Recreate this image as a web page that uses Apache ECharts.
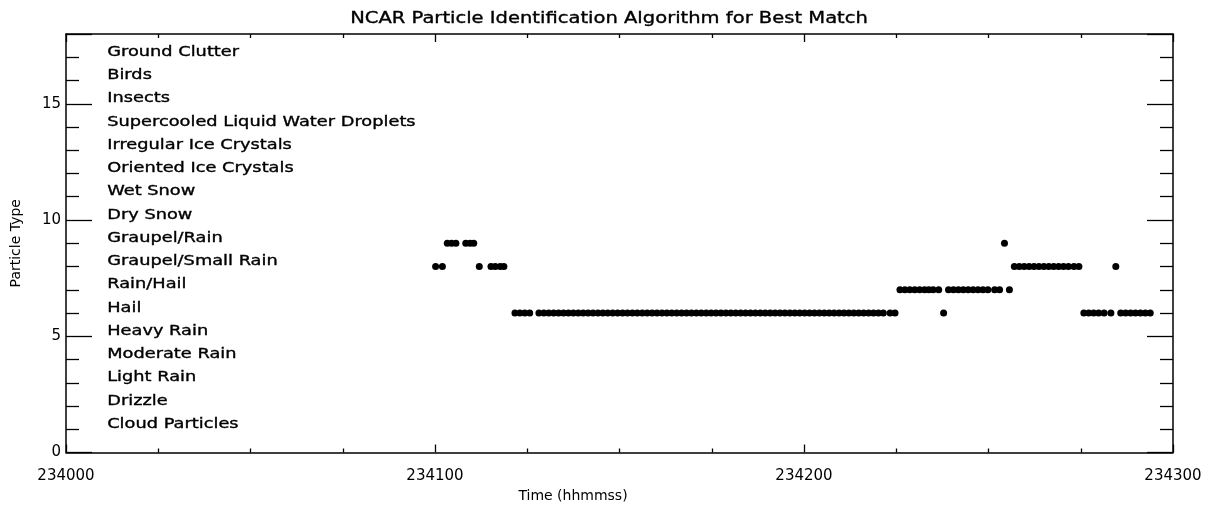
<!DOCTYPE html>
<html>
<head>
<meta charset="utf-8">
<script src="https://cdn.jsdelivr.net/npm/echarts@6/dist/echarts.min.js"></script>
<style>
html,body{margin:0;padding:0;background:#fff;}
#chart{width:1218px;height:506px;}
</style>
</head>
<body>
<div id="chart"></div>
<script>
// Particle type names, index 0 -> type 1
const particleTypes = ["Cloud Particles","Drizzle","Light Rain","Moderate Rain","Heavy Rain","Hail","Rain/Hail","Graupel/Small Rain","Graupel/Rain","Dry Snow","Wet Snow","Oriented Ice Crystals","Irregular Ice Crystals","Supercooled Liquid Water Droplets","Insects","Birds","Ground Clutter"];
// x tick labels (every 60 s from 23:40:00)
const xTickLabels = ["234000","234100","234200","234300"];
// observation time, seconds after 23:40:00
const obsTime = [
 60.1, 61.2,
 62.0, 62.7, 63.4,
 65.0, 65.7, 66.3,
 67.2,
 69.1, 69.8, 70.6, 71.2,
 73.0, 73.8, 74.6, 75.4,
 76.9, 77.7, 78.5, 79.3, 80.1, 80.9, 81.7, 82.5, 83.3, 84.1, 84.9, 85.7, 86.5, 87.3, 88.1, 88.9, 89.7, 90.5, 91.3, 92.1, 92.9, 93.7, 94.5, 95.3, 96.1, 96.9, 97.7, 98.5, 99.3, 100.1, 100.9, 101.7, 102.5, 103.3, 104.1, 104.9, 105.7, 106.5, 107.3, 108.1, 108.9, 109.7, 110.5, 111.3, 112.1, 112.9, 113.7, 114.5, 115.3, 116.1, 116.9, 117.7, 118.5, 119.3, 120.1, 120.9, 121.7, 122.5, 123.3, 124.1, 124.9, 125.7, 126.5, 127.3, 128.1, 128.9, 129.7, 130.5, 131.3, 132.1, 132.9,
 134.0, 134.8, 135.6, 136.4, 137.2, 138.0, 138.8, 139.6, 140.3,
 141.0,
 141.9, 142.7, 143.5, 144.3, 145.1, 145.9, 146.7, 147.5, 148.3, 149.1, 149.9,
 151.0,
 151.8,
 152.6, 153.4, 154.2, 155.0, 155.8, 156.6, 157.4, 158.2, 159.0, 159.8, 160.6, 161.4, 162.2, 163.0,
 163.9, 164.7, 165.5, 166.3, 167.1, 167.9,
 168.8,
 169.9, 170.7, 171.5, 172.3, 173.1, 173.9, 174.7, 175.5, 176.3
];
// particle type for each observation
const obsType = [
 8, 8,
 9, 9, 9,
 9, 9, 9,
 8,
 8, 8, 8, 8,
 6, 6, 6, 6,
 6,6,6,6,6,6,6,6,6,6,6,6,6,6,6,6,6,6,6,6,6,6,6,6,6,6,6,6,6,6,6,6,6,6,6,6,6,6,6,6,6,6,6,6,6,6,6,6,6,6,6,6,6,6,6,6,6,6,6,6,6,6,6,6,6,6,6,6,6,6,6,6,6,
 7,7,7,7,7,7,7,7,7,
 6,
 7,7,7,7,7,7,7,7,7,7,7,
 9,
 7,
 8,8,8,8,8,8,8,8,8,8,8,8,8,8,
 6,6,6,6,6,6,
 8,
 6,6,6,6,6,6,6,6,6
];

const FONT = "DejaVu Sans";
const points = obsTime.map((t, i) => [t, obsType[i]]);
const LABEL_X = 6.7;

const axisLine = {show: true, onZero: false, lineStyle: {color: '#000', width: 1.5}};
const chart = echarts.init(document.getElementById('chart'), null, {renderer: 'canvas'});
const xBase = {
  type: 'value', min: 0, max: 180, interval: 60,
  axisLine: axisLine, splitLine: {show: false},
  axisTick: {show: true, inside: true, length: 8, lineStyle: {color: '#000', width: 1.3}},
  minorTick: {show: true, splitNumber: 4, length: 4, lineStyle: {color: '#000', width: 1.3}},
  minorSplitLine: {show: false}
};
const yBase = {
  type: 'value', min: 0, max: 18, interval: 5,
  axisLine: axisLine, splitLine: {show: false},
  axisTick: {show: true, inside: true, length: 26, lineStyle: {color: '#000', width: 1.3}},
  minorTick: {show: true, splitNumber: 5, length: 13, lineStyle: {color: '#000', width: 1.3}},
  minorSplitLine: {show: false}
};
chart.setOption({
  animation: false,
  backgroundColor: '#fff',
  grid: {left: 66, right: 45, top: 34, bottom: 53.5, containLabel: false},
  xAxis: [
    Object.assign({}, xBase, {
      position: 'bottom',
      axisLabel: {show: true, margin: 24, fontFamily: FONT, fontSize: 15, color: '#000',
        showMaxLabel: true, showMinLabel: true, verticalAlign: 'middle',
        formatter: v => xTickLabels[Math.round(v / 60)] || ''}
    }),
    Object.assign({}, xBase, {position: 'top', axisLabel: {show: false}})
  ],
  yAxis: [
    Object.assign({}, yBase, {
      position: 'left',
      name: 'Particle Type', nameLocation: 'middle', nameGap: 43, nameRotate: 90,
      nameTextStyle: {fontFamily: FONT, fontSize: 14, color: '#000'},
      axisLabel: {show: true, margin: 5, fontFamily: FONT, fontSize: 15, color: '#000',
        showMaxLabel: false, verticalAlign: 'middle', padding: [0, 0, 6, 0]}
    }),
    Object.assign({}, yBase, {position: 'right', axisLabel: {show: false}})
  ],
  series: [
    {
      type: 'scatter', xAxisIndex: 0, yAxisIndex: 0,
      data: points, symbol: 'circle', symbolSize: 7,
      itemStyle: {color: '#000', opacity: 1}
    }
  ]
});

// Text (title, in-plot type names, x-axis title) drawn as wide text like the original vector font
const graphics = [
  {
    type: 'text', x: 609, y: 19, scaleX: 1.22,
    style: {text: 'NCAR Particle Identification Algorithm for Best Match', fontFamily: FONT, fontSize: 16,
      fill: '#000', stroke: '#000', lineWidth: 0.35, align: 'center', verticalAlign: 'middle'}
  },
  {
    type: 'text', x: 573, y: 496,
    style: {text: 'Time (hhmmss)', fontFamily: FONT, fontSize: 14, fill: '#000', align: 'center', verticalAlign: 'middle'}
  }
];
particleTypes.forEach((n, i) => {
  const p = chart.convertToPixel({gridIndex: 0}, [LABEL_X, i + 1]);
  graphics.push({
    type: 'text', x: p[0], y: p[1] - 5, scaleX: 1.27, silent: true,
    style: {text: n, fontFamily: FONT, fontSize: 14, fill: '#000', stroke: '#000', lineWidth: 0.35,
      align: 'left', verticalAlign: 'middle'}
  });
});
chart.setOption({graphic: graphics});
</script>
</body>
</html>
